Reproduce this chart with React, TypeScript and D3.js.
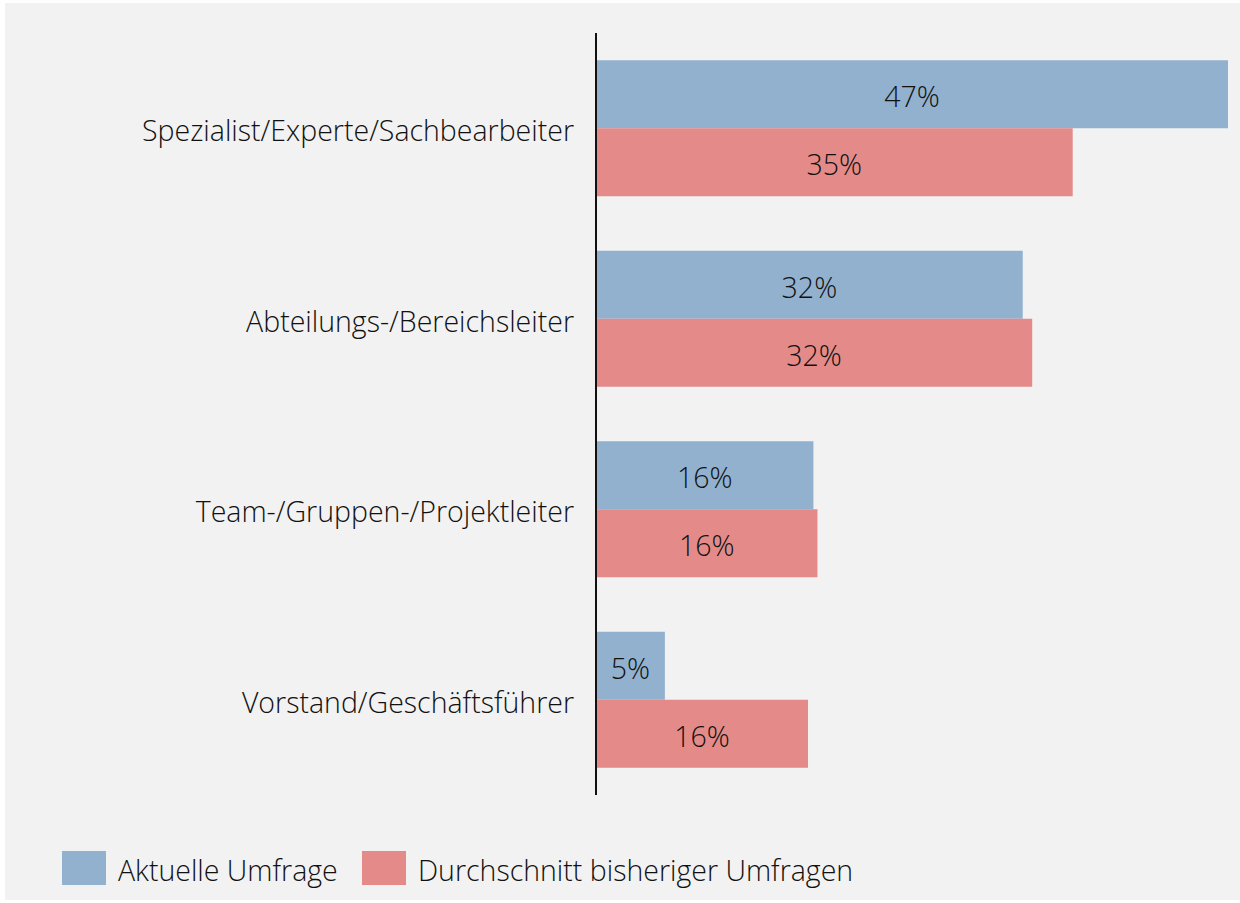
import React from "react";
import * as d3 from "d3";

const categories = [
  "Spezialist/Experte/Sachbearbeiter",
  "Abteilungs-/Bereichsleiter",
  "Team-/Gruppen-/Projektleiter",
  "Vorstand/Geschäftsführer",
];
const seriesNames = ["Aktuelle Umfrage", "Durchschnitt bisheriger Umfragen"];
const aktuell = [46.8, 31.6, 16.1, 5.1];
const durchschnitt = [35.3, 32.3, 16.4, 15.7];
const colors = ["#92b1cf", "#e48b8a"];

const W = 1240;
const H = 903;
const FONT = "'Open Sans', 'Noto Sans', sans-serif";
const FS = 28.5;
const TEXT = "#111111";

export default function App() {
  const x = d3.scaleLinear().domain([0, 46.8]).range([596, 1228]);
  const y = d3
    .scaleBand<string>()
    .domain(categories)
    .range([33, 795])
    .paddingInner(0.286)
    .paddingOuter(0.143);
  const sub = d3.scaleBand<number>().domain([0, 1]).range([0, y.bandwidth()]);
  const series = [aktuell, durchschnitt];

  return (
    <svg
      width={W}
      height={H}
      style={{ position: "absolute", left: 0, top: 0, fontFamily: FONT }}
    >
      <rect x={0} y={0} width={W} height={H} fill="#ffffff" />
      <rect x={5} y={3} width={W - 5} height={H - 6} fill="#f2f2f2" />
      {categories.map((c, i) => (
        <g key={c}>
          <text
            x={574}
            y={(y(c) as number) + y.bandwidth() / 2 + 2}
            textAnchor="end"
            dominantBaseline="central"
            fontSize={FS}
            fontWeight={300}
            fill={TEXT}
          >
            {c}
          </text>
          {series.map((s, k) => {
            const by = (y(c) as number) + (sub(k) as number);
            const bw = x(s[i]) - x(0);
            return (
              <g key={k}>
                <rect
                  x={x(0)}
                  y={by}
                  width={bw}
                  height={sub.bandwidth()}
                  fill={colors[k]}
                />
                <text
                  x={x(0) + bw / 2}
                  y={by + sub.bandwidth() / 2 + 2}
                  textAnchor="middle"
                  dominantBaseline="central"
                  fontSize={FS}
                  fontWeight={300}
                  fill={TEXT}
                >
                  {`${Math.round(s[i])}%`}
                </text>
              </g>
            );
          })}
        </g>
      ))}
      <line x1={596} x2={596} y1={33} y2={795} stroke="#111111" strokeWidth={2} />
      {seriesNames.map((n, k) => {
        const lx = k === 0 ? 62 : 362;
        return (
          <g key={n}>
            <rect x={lx} y={851} width={44} height={34} fill={colors[k]} />
            <text
              x={lx + 56}
              y={870}
              dominantBaseline="central"
              fontSize={FS}
              fontWeight={300}
              fill={TEXT}
            >
              {n}
            </text>
          </g>
        );
      })}
    </svg>
  );
}
